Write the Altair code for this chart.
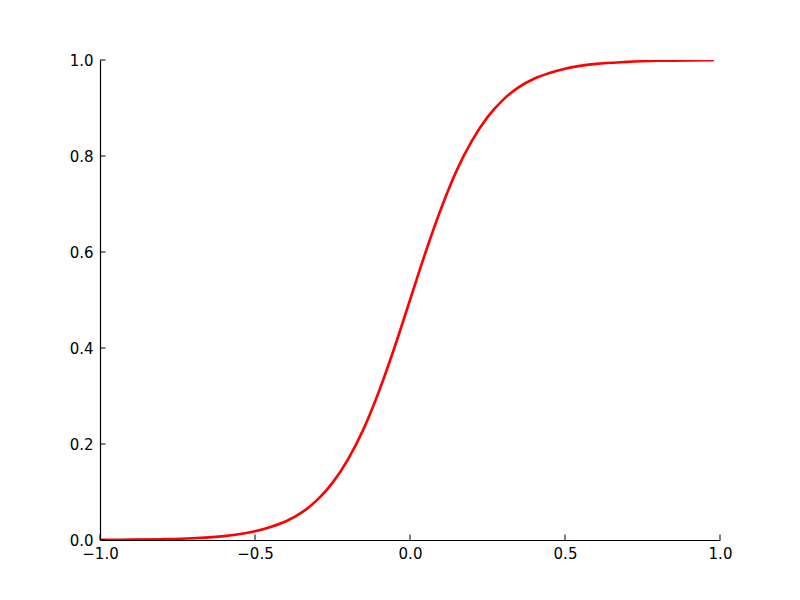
import altair as alt
import pandas as pd

# values
x_vals = [-1.0, -0.9, -0.8, -0.7, -0.6, -0.5, -0.45, -0.4, -0.35, -0.3, -0.25, -0.2,
          -0.15, -0.1, -0.05, 0.0, 0.05, 0.1, 0.15, 0.2, 0.25, 0.3, 0.35, 0.4, 0.45,
          0.5, 0.6, 0.7, 0.8, 0.9, 0.98]
y_vals = [0.0003, 0.0007, 0.0017, 0.0037, 0.008, 0.018, 0.027, 0.039, 0.057, 0.083,
          0.119, 0.168, 0.231, 0.31, 0.401, 0.5, 0.599, 0.69, 0.769, 0.832, 0.881,
          0.917, 0.943, 0.961, 0.973, 0.982, 0.992, 0.996, 0.9983, 0.9993, 0.9996]
x_ticks = [-1.0, -0.5, 0.0, 0.5, 1.0]
y_ticks = [0.0, 0.2, 0.4, 0.6, 0.8, 1.0]

W, H = 620, 480
TICK = 5.5
FONT = "DejaVu Sans"

df = pd.DataFrame({"x": x_vals, "y": y_vals})
xt = pd.DataFrame({"x": x_ticks})
yt = pd.DataFrame({"y": y_ticks})

xscale = alt.Scale(domain=[-1, 1], nice=False, zero=False)
yscale = alt.Scale(domain=[0, 1], nice=False, zero=False)

lab = "replace(format(datum.value, '.1f'), '-', '\u2212')"

xaxis = alt.Axis(values=x_ticks, labelExpr=lab, title=None, grid=False, ticks=False,
                 domainColor="black", domainWidth=1.2, labelFont=FONT, labelFontSize=15,
                 labelColor="black", labelPadding=6, labelFlush=False, labelOverlap=False)
yaxis = alt.Axis(values=y_ticks, labelExpr=lab, title=None, grid=False, ticks=False,
                 domainColor="black", domainWidth=1.2, labelFont=FONT, labelFontSize=15,
                 labelColor="black", labelPadding=7, labelFlush=False, labelOverlap=False)

X = alt.X("x:Q", scale=xscale, axis=xaxis)
Y = alt.Y("y:Q", scale=yscale, axis=yaxis)

curve = alt.Chart(df).mark_line(color="#ff0000", strokeWidth=2.6, interpolate="monotone",
                                clip=True).encode(x=X, y=Y)

xtick_marks = alt.Chart(xt).mark_rule(color="black", strokeWidth=1).encode(
    x=X,
    y=alt.value(H),
    y2=alt.value(H - TICK),
)

ytick_marks = alt.Chart(yt).mark_rule(color="black", strokeWidth=1).encode(
    y=Y,
    x=alt.value(0),
    x2=alt.value(TICK),
)

chart = alt.layer(curve, xtick_marks, ytick_marks).properties(
    width=W, height=H,
    background="white",
    autosize=alt.AutoSizeParams(type="none"),
    padding={"left": 92, "top": 52, "right": 72, "bottom": 52},
).configure_view(stroke="transparent", strokeWidth=0)

chart.save("out.html", embed_options={"renderer": "svg", "actions": False})
